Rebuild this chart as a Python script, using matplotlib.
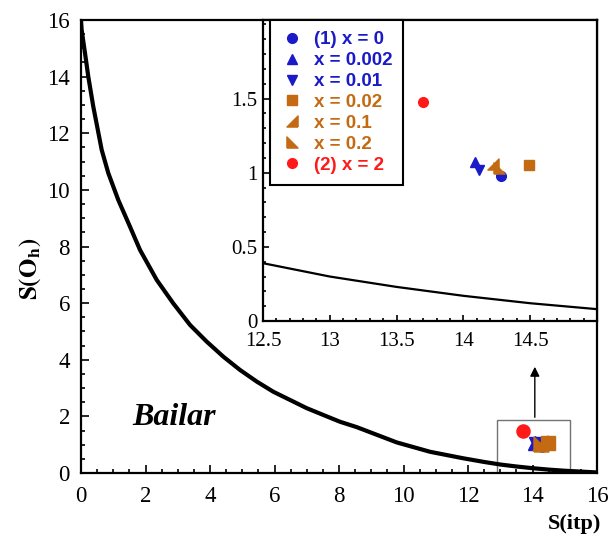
import matplotlib.pyplot as plt
from matplotlib.patches import Rectangle
from matplotlib.ticker import MultipleLocator, FormatStrFormatter

plt.rcParams['font.family'] = 'serif'
plt.rcParams['font.serif'] = ['Liberation Serif', 'DejaVu Serif']
plt.rcParams['mathtext.fontset'] = 'stix'

#%% data
# Bailar path (minimum distortion curve)
path_x = [0.0, 0.02, 0.124, 0.226, 0.381, 0.642, 0.847, 1.157, 1.519, 1.829,
          2.347, 2.862, 3.38, 3.898, 4.412, 4.93, 5.448, 5.963, 6.481, 6.998,
          7.513, 8.03, 8.55, 9.79, 10.82, 11.85, 12.5, 13.0, 13.5, 14.0, 14.5,
          15.0, 15.5, 16.0]
path_y = [16.0, 15.65, 14.83, 14.0, 12.94, 11.41, 10.59, 9.64, 8.70, 7.88,
          6.82, 5.99, 5.23, 4.64, 4.11, 3.64, 3.23, 2.87, 2.58, 2.29,
          2.05, 1.81, 1.62, 1.08, 0.75, 0.52, 0.39, 0.30, 0.23, 0.17, 0.12,
          0.08, 0.05, 0.02]

labels = ['(1) x = 0', 'x = 0.002', 'x = 0.01', 'x = 0.02', 'x = 0.1',
          'x = 0.2', '(2) x = 2']
s_itp = [14.28, 14.09, 14.12, 14.49, 14.22, 14.27, 13.70]
s_oh = [0.975, 1.07, 1.02, 1.05, 1.06, 1.03, 1.48]

blue = '#1a1ac8'
orange = '#c46a12'
red = '#ff1a1a'
colors = [blue, blue, blue, orange, orange, orange, red]
tri_a = [(1, -1), (1, 1), (-1, -1), (1, -1)]   # right angle bottom-right
tri_b = [(-1, -1), (-1, 1), (1, -1), (-1, -1)]  # right angle bottom-left
markers = ['o', '^', 'v', 's', tri_a, tri_b, 'o']
msize = [7, 7.5, 7.5, 7, 8, 8, 7]

#%% main plot
fig = plt.figure(figsize=(6.1, 5.44), dpi=100)
ax = fig.add_axes([0.1328, 0.1305, 0.846, 0.8327])
ax.plot(path_x, path_y, color='k', lw=3, solid_joinstyle='round')
for i in range(len(labels)):
    ax.plot(s_itp[i], s_oh[i], ls='none', marker=markers[i], color=colors[i],
            ms=msize[i] * 1.35, zorder=3)

ax.set_xlim(0, 16)
ax.set_ylim(0, 16)
ax.xaxis.set_major_locator(MultipleLocator(2))
ax.xaxis.set_minor_locator(MultipleLocator(0.5))
ax.yaxis.set_major_locator(MultipleLocator(2))
ax.yaxis.set_minor_locator(MultipleLocator(0.5))
ax.tick_params(which='both', direction='in', labelsize=16.5, width=1.2)
ax.tick_params(which='major', length=6)
ax.tick_params(which='minor', length=3)
ax.tick_params(axis='x', pad=9)
ax.tick_params(axis='y', pad=8)
for s in ax.spines.values():
    s.set_linewidth(1.6)

ax.set_xlabel('S(itp)', fontsize=16, fontweight='bold')
ax.xaxis.set_label_coords(0.957, -0.09)
ax.set_ylabel(r'$\mathbf{S(O_h)}$', fontsize=18)
ax.yaxis.set_label_coords(-0.074, 0.45)

ax.text(1.58, 1.7, 'Bailar', fontsize=23, fontweight='bold', style='italic')

ax.add_patch(Rectangle((12.89, 0), 2.28, 1.87, fill=False, ec='0.45', lw=1))
ax.annotate('', xy=(14.07, 3.85), xytext=(14.07, 1.87),
            arrowprops=dict(arrowstyle='-|>', color='k', lw=1,
                            mutation_scale=14))

#%% inset
ins = fig.add_axes([0.4311, 0.4099, 0.5475, 0.5533])
ins.plot(path_x, path_y, color='k', lw=1.6)
handles = []
for i in range(len(labels)):
    h, = ins.plot(s_itp[i], s_oh[i], ls='none', marker=markers[i],
                  color=colors[i], ms=msize[i], label=labels[i])
    handles.append(h)

ins.set_xlim(12.5, 15)
ins.set_ylim(0, 2.03)
ins.set_xticks([12.5, 13, 13.5, 14, 14.5])
ins.xaxis.set_minor_locator(MultipleLocator(0.1))
ins.set_yticks([0, 0.5, 1, 1.5])
ins.yaxis.set_minor_locator(MultipleLocator(0.1))
ins.xaxis.set_major_formatter(FormatStrFormatter('%g'))
ins.yaxis.set_major_formatter(FormatStrFormatter('%g'))
ins.tick_params(which='both', direction='in', labelsize=15, width=1.2)
ins.tick_params(which='major', length=4.5)
ins.tick_params(which='minor', length=2.5)
ins.tick_params(axis='x', pad=8)
ins.tick_params(axis='y', pad=4)
for s in ins.spines.values():
    s.set_linewidth(1.6)

leg = ins.legend(handles=handles, loc='upper left',
                 bbox_to_anchor=(0.02, 1.0), fancybox=False, framealpha=1,
                 edgecolor='k', borderpad=0.6, labelspacing=0.2,
                 handletextpad=0.55, handlelength=1.2, borderaxespad=0,
                 prop={'family': 'Liberation Sans', 'weight': 'bold',
                       'size': 13.5})
leg.get_frame().set_linewidth(1.5)
for t, c in zip(leg.get_texts(), colors):
    t.set_color(c)

fig.savefig('out.png', dpi=100)
